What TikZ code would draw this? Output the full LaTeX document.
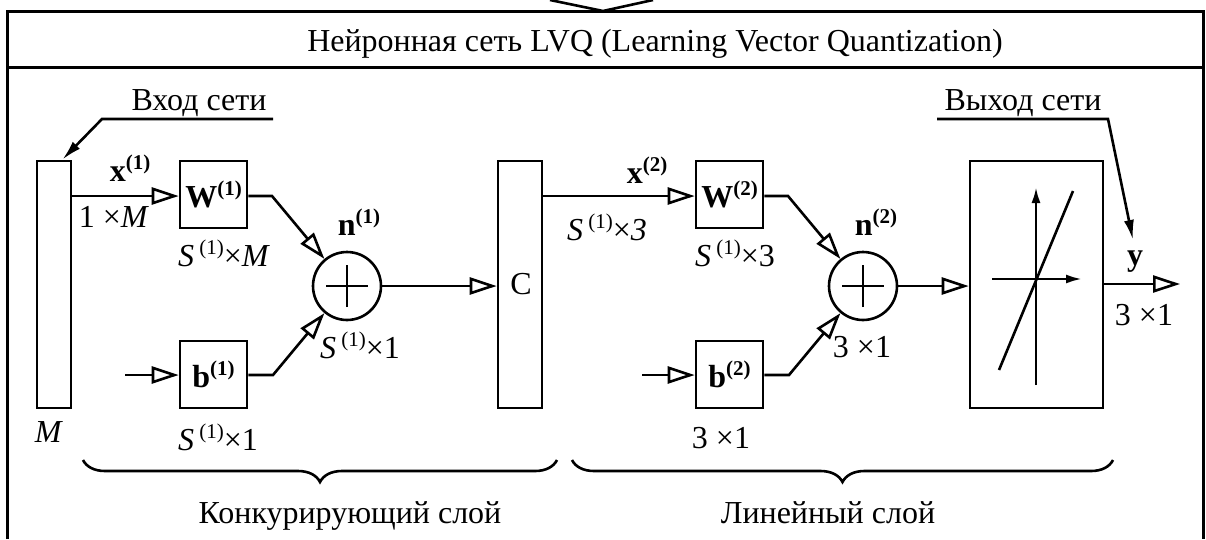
\documentclass[tikz,border=0pt]{standalone}
\usepackage{fontspec}
\setmainfont{Liberation Serif}
\usetikzlibrary{arrows.meta,decorations.pathreplacing}
\newcommand\sups[1]{\raisebox{12pt}{\fontsize{21}{22}\selectfont #1}}
\begin{document}
\begin{tikzpicture}[x=1pt,y=-1pt,
  line width=2.6pt,
  every node/.style={inner sep=0pt, font=\fontsize{32}{36}\selectfont},
  blk/.style={draw, rectangle, line width=2.6pt},
  sumnode/.style={draw, circle, minimum size=68pt, line width=2.6pt},
  oarrow/.style={-{Triangle[open,length=27pt,width=17pt]}},
  farrow/.style={-{Latex[length=20pt,width=10pt]}},
  axarrow/.style={-{Latex[length=16pt,width=9pt]}},
  framel/.style={line width=3pt},
  bracel/.style={decorate, decoration={brace, mirror, amplitude=22pt}, line width=2.6pt}
]
\useasboundingbox (0,0) rectangle (1206,539);
% frame
\draw[framel] (7,539) -- (7,11) -- (1203,11) -- (1203,539);
\draw[framel] (7,67) -- (1203,67);
\draw[line width=2.6pt] (550,0) -- (603,11) -- (653,0);
\node[anchor=base] (title) at (655,51) {Нейронная сеть LVQ (Learning Vector Quantization)};

% blocks
\node[blk, minimum width=34pt, minimum height=247pt] (inp) at (54,284.5) {};
\node[blk, minimum width=67pt, minimum height=67pt] (W1) at (213.5,194.5) {\textbf{W}\sups{\bfseries(1)}};
\node[blk, minimum width=67pt, minimum height=67pt] (b1) at (213.5,374.5) {\textbf{b}\sups{\bfseries(1)}};
\node[sumnode] (s1) at (347,286) {};
\node[blk, minimum width=44pt, minimum height=247pt] (C) at (520,284.5) {};
\node (Clab) at (521,284) {C};
\node[blk, minimum width=67pt, minimum height=67pt] (W2) at (729.5,194.5) {\textbf{W}\sups{\bfseries(2)}};
\node[blk, minimum width=67pt, minimum height=67pt] (b2) at (729.5,374.5) {\textbf{b}\sups{\bfseries(2)}};
\node[sumnode] (s2) at (863,286) {};
\node[blk, minimum width=133pt, minimum height=247pt] (tf) at (1036.5,284.5) {};

% plus signs
\draw ([xshift=-21pt]s1.center) -- ([xshift=21pt]s1.center);
\draw ([yshift=-21pt]s1.center) -- ([yshift=21pt]s1.center);
\draw ([xshift=-21pt]s2.center) -- ([xshift=21pt]s2.center);
\draw ([yshift=-21pt]s2.center) -- ([yshift=21pt]s2.center);

% transfer function
\draw[axarrow] (1036,385) -- (1036,187);
\draw[axarrow] (992,279) -- (1082,279);
\draw (999,370) -- (1073,191);

% coordinates
\coordinate (b1in) at (125,375);
\coordinate (b2in) at (642,375);
\coordinate (yout) at (1180,284);

% connectors
\draw[oarrow] (inp.east |- 0,196) -- (W1.west |- 0,196);
\draw[oarrow] (W1.east |- 0,196) -- (272,196) -- (s1);
\draw[oarrow] (b1in) -- (b1.west |- b1in);
\draw[oarrow] (b1.east |- b1in) -- (273,375) -- (s1);
\draw[oarrow] (s1.east) -- (s1.east -| C.west);
\draw[oarrow] (C.east |- 0,196) -- (W2.west |- 0,196);
\draw[oarrow] (W2.east |- 0,196) -- (788,196) -- (s2);
\draw[oarrow] (b2in) -- (b2.west |- b2in);
\draw[oarrow] (b2.east |- b2in) -- (789,375) -- (s2);
\draw[oarrow] (s2.east) -- (s2.east -| tf.west);
\draw[oarrow] (tf.east |- yout) -- (yout);

% leaders
\node[anchor=base] (vin) at (199,110) {Вход сети};
\node[anchor=base] (vout) at (1023,110) {Выход сети};
\coordinate (l1) at (273,119);
\coordinate (l2) at (102,119);
\draw[farrow] (l1) -- (l2) -- ([xshift=-10pt]inp.north east);
\coordinate (r1) at (937,119);
\coordinate (r2) at (1108,119);
\coordinate (r3) at (1133,240);
\draw[farrow] (r1) -- (r2) -- (r3);

% labels
\node (x1) at (130,168) {\textbf{x}\sups{\bfseries(1)}};
\node (d1) at (114,217) {1 ×\textit{M}};
\node (dW1) at (224,253) {\textit{S}\,\sups{(1)}×\textit{M}};
\node (n1) at (359,222) {\textbf{n}\sups{\bfseries(1)}};
\node (ds1) at (360,345) {\textit{S}\,\sups{(1)}×1};
\node (db1) at (218,437) {\textit{S}\,\sups{(1)}×1};
\node (dM) at (49,432) {\textit{M}};
\node (x2) at (647,170) {\textbf{x}\sups{\bfseries(2)}};
\node (dx2) at (607,227) {\textit{S}\,\sups{(1)}×\textit{3}};
\node (dW2) at (735,253) {\textit{S}\,\sups{(1)}×3};
\node (n2) at (876,222) {\textbf{n}\sups{\bfseries(2)}};
\node (ds2) at (862,347) {3 ×1};
\node (db2) at (721,438) {3 ×1};
\node (ylab) at (1135,262) {\textbf{y}};
\node (dy) at (1144,315) {3 ×1};

% braces
\draw[bracel] (83,460) -- (557,460);
\draw[bracel] (572,460) -- (1113,460);
\node[anchor=base] (L1) at (350,523) {Конкурирующий слой};
\node[anchor=base] (L2) at (828,523) {Линейный слой};
\end{tikzpicture}
\end{document}
